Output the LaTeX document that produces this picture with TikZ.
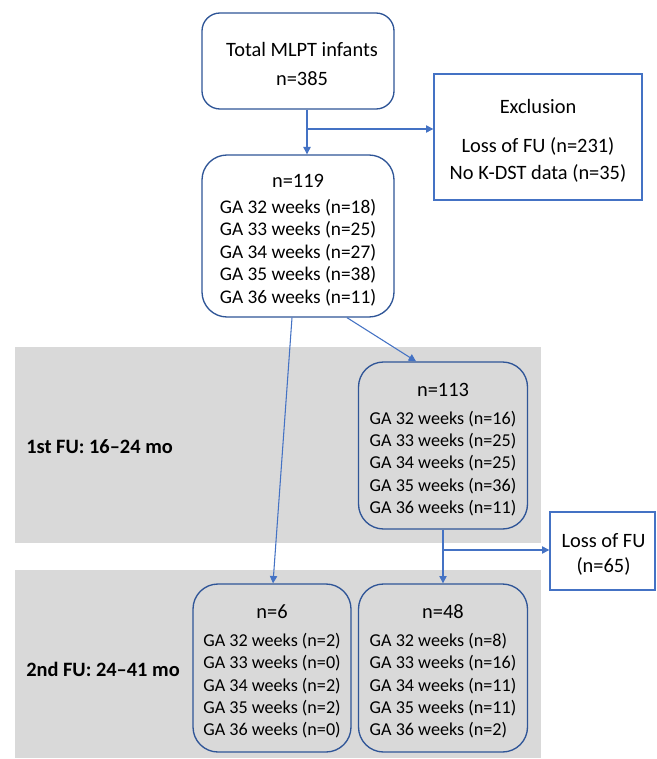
\documentclass[tikz,border=0pt]{standalone}
\usepackage{fontspec}
\setmainfont{Carlito}
\usetikzlibrary{arrows.meta,calc}
\definecolor{boxblue}{RGB}{47,85,151}
\definecolor{arrblue}{RGB}{68,114,196}
\definecolor{band}{RGB}{217,217,217}
\newcommand{\hdr}[1]{{\fontsize{15.3pt}{18pt}\selectfont #1}}
\begin{document}
\begin{tikzpicture}[x=0.75pt,y=-0.75pt,
  rbox/.style={draw=boxblue,line width=1pt,inner sep=0pt},
  sbox/.style={draw=arrblue,line width=1pt,fill=white,inner sep=0pt},
  txt/.style={align=center,inner sep=0pt},
  big/.style={txt,font=\fontsize{15.3pt}{21.75pt}\selectfont},
  exf/.style={txt,font=\fontsize{15.3pt}{20.25pt}\selectfont},
  lossf/.style={txt,font=\fontsize{15.3pt}{18.75pt}\selectfont},
  mid/.style={txt,font=\fontsize{14.5pt}{16.9pt}\selectfont},
  small/.style={txt,font=\fontsize{13.6pt}{16.75pt}\selectfont},
  arr/.style={draw=arrblue,line width=0.8pt,-{Triangle[length=5.5pt,width=5.5pt]}},
  lbl/.style={font=\fontsize{15.3pt}{18pt}\selectfont\bfseries,anchor=west,inner sep=0pt}]
\useasboundingbox (0,0) rectangle (656,759);
\fill[white] (0,0) rectangle (656,759);
% bands
\fill[band] (15,347) rectangle (541,543);
\fill[band] (15,570) rectangle (541,758);
\node[lbl] (l1) at (26,447) {1st FU: 16--24 mo};
\node[lbl] (l2) at (26,669) {2nd FU: 24--41 mo};
% boxes
\node[rbox,fill=white,rounded corners=18pt*0.75,minimum width={192*0.75pt},minimum height={96*0.75pt}] (top) at (298,61) {};
\node[big] (topt) at (302,63.5) {Total MLPT infants\\n=385};
\node[sbox,minimum width={208*0.75pt},minimum height={126*0.75pt}] (excl) at (538,137) {};
\node[exf] (exclt) at (538,140.5) {Exclusion\\[9pt]Loss of FU (n=231)\\No K-DST data (n=35)};
\node[rbox,fill=white,rounded corners=25pt*0.75,minimum width={192*0.75pt},minimum height={162*0.75pt}] (n119) at (298,236) {};
\node[mid] (n119t) at (298,240)
  {\hdr{n=119}\\[2.6pt]
   GA 32 weeks (n=18)\\GA 33 weeks (n=25)\\GA 34 weeks (n=27)\\GA 35 weeks (n=38)\\GA 36 weeks (n=11)};
\node[rbox,rounded corners=25pt*0.75,minimum width={169*0.75pt},minimum height={167*0.75pt}] (n113) at (443,445.5) {};
\node[small] (n113t) at (443,449.5)
  {\hdr{n=113}\\[4.2pt]
   GA 32 weeks (n=16)\\GA 33 weeks (n=25)\\GA 34 weeks (n=25)\\GA 35 weeks (n=36)\\GA 36 weeks (n=11)};
\node[sbox,minimum width={105*0.75pt},minimum height={78*0.75pt}] (loss) at (602.5,551) {};
\node[lossf] (losst) at (603.5,554) {Loss of FU\\(n=65)};
\node[rbox,rounded corners=25pt*0.75,minimum width={158*0.75pt},minimum height={168*0.75pt}] (n6) at (272,668) {};
\node[small] (n6t) at (272,671.5)
  {\hdr{n=6}\\[4.2pt]
   GA 32 weeks (n=2)\\GA 33 weeks (n=0)\\GA 34 weeks (n=2)\\GA 35 weeks (n=2)\\GA 36 weeks (n=0)};
\node[rbox,rounded corners=25pt*0.75,minimum width={169*0.75pt},minimum height={168*0.75pt}] (n48) at (443,668) {};
\node[small] (n48t) at (443,671.5)
  {\hdr{n=48}\\[4.2pt]
   GA 32 weeks (n=8)\hphantom{0}\\GA 33 weeks (n=16)\\GA 34 weeks (n=11)\\GA 35 weeks (n=11)\\GA 36 weeks (n=2)\hphantom{0}};
% connectors
\coordinate (j1) at (307,129);
\draw[draw=arrblue,line width=0.8pt] (top.south -| j1) -- (j1);
\draw[arr] (j1) -- (n119.north -| j1);
\draw[arr] (j1) -- (excl.west |- j1);
\draw[arr] ($(n119.south)+(-6,0)$) -- ($(n6.north)+(1,0)$);
\draw[arr] ($(n119.south)+(49,0)$) -- ($(n113.north)+(-27,0)$);
\coordinate (j2) at (443,550);
\draw[draw=arrblue,line width=0.8pt] (n113.south) -- (j2);
\draw[arr] (j2) -- (n48.north);
\draw[arr] (j2) -- (loss.west |- j2);
\end{tikzpicture}
\end{document}
